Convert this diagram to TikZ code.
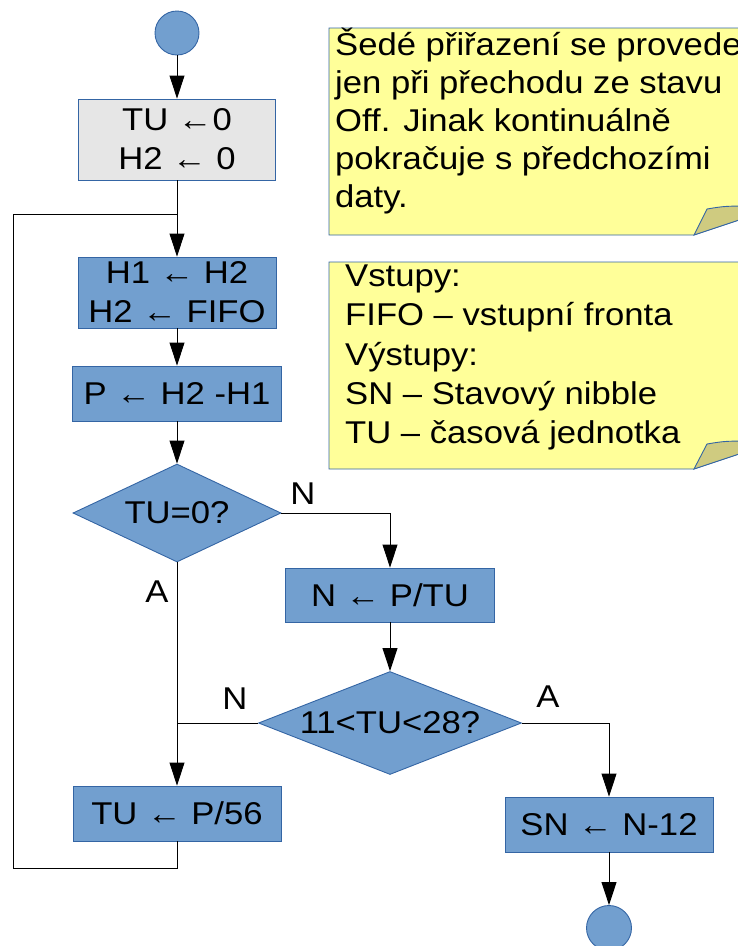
\documentclass[tikz,border=0pt]{standalone}
\usepackage{fontspec}
\setmainfont{Liberation Sans}[FakeStretch=1.10]
\usetikzlibrary{shapes.geometric,arrows.meta}
\definecolor{boxblue}{HTML}{729FCF}
\definecolor{edgeblue}{HTML}{3465A4}
\definecolor{initgray}{HTML}{E6E6E6}
\definecolor{noteyellow}{HTML}{FFFF99}
\definecolor{notefold}{HTML}{CFCB80}
\tikzset{
  basefont/.style={font=\fontsize{31.5}{39}\selectfont},
  proc/.style={draw=edgeblue, fill=boxblue, line width=0.9pt, inner sep=0pt, align=center, basefont},
  initbox/.style={proc, fill=initgray},
  decision/.style={draw=edgeblue, fill=boxblue, line width=0.9pt, shape=diamond, inner sep=0pt, basefont},
  terminal/.style={circle, draw=edgeblue, fill=boxblue, line width=0.9pt, minimum size=44pt, inner sep=0pt},
  flow/.style={draw=black, line width=1pt, -{Triangle[length=23pt,width=15pt]}},
  plainline/.style={draw=black, line width=1pt},
  lbl/.style={basefont, inner sep=0pt},
  notetext/.style={basefont, anchor=base west, inner sep=0pt},
  notebox/.style={fill=noteyellow, draw=edgeblue, line width=0.9pt},
  noteflap/.style={fill=notefold, draw=edgeblue, line width=0.9pt},
}
\begin{document}
\begin{tikzpicture}[x=1pt,y=-1pt]
\useasboundingbox (0,0) rectangle (738,946);
\clip (0,0) rectangle (738,946);

% --- comment notes ---
\path[notebox] (329,28) -- (760,28) -- (760,213) -- (694,235) -- (329,235) -- cycle;
\path[noteflap] (694,235) -- (707,209) .. controls (725,206) .. (760,206) -- (760,213) -- cycle;
\node[notetext] (n1a) at (335,55)  {Šedé přiřazení se provede};
\node[notetext] (n1b) at (335,93)  {jen při přechodu ze stavu};
\node[notetext] (n1c) at (335,131) {Off. Jinak kontinuálně};
\node[notetext] (n1d) at (335,169) {pokračuje s předchozími};
\node[notetext] (n1e) at (335,207) {daty.};

\path[notebox] (329,262) -- (760,262) -- (760,447) -- (694,469) -- (329,469) -- cycle;
\path[noteflap] (694,469) -- (707,444) .. controls (725,441) .. (760,441) -- (760,447) -- cycle;
\node[notetext] (n2a) at (345,286)   {Vstupy:};
\node[notetext] (n2b) at (345,325.5) {FIFO – vstupní fronta};
\node[notetext] (n2c) at (345,365)   {Výstupy:};
\node[notetext] (n2d) at (345,404)   {SN – Stavový nibble};
\node[notetext] (n2e) at (345,443)   {TU – časová jednotka};

% --- flowchart nodes ---
\node[terminal] (start) at (177,33) {};
\node[initbox, minimum width=197pt, minimum height=81pt] (init) at (177,139.5) {TU ←0\\H2 ← 0};
\node[proc, minimum width=198pt, minimum height=71pt] (shift) at (177,292.5) {H1 ← H2\\H2 ← FIFO};
\node[proc, minimum width=209pt, minimum height=55pt] (diff) at (177,393.5) {P ← H2 -H1};
\node[decision, minimum width=208pt, minimum height=98pt, aspect=2.12] (zero) at (177,513) {TU=0?};
\node[proc, minimum width=209pt, minimum height=54pt] (ratio) at (390,595) {N ← P/TU};
\node[decision, minimum width=263pt, minimum height=103pt, aspect=2.55] (range) at (390,723) {11<TU<28?};
\node[proc, minimum width=208pt, minimum height=55pt] (reset) at (177,813.5) {TU ← P/56};
\node[proc, minimum width=208pt, minimum height=55pt] (nib) at (609,824.5) {SN ← N-12};
\node[terminal, minimum size=45pt] (stop) at (609,928) {};

% --- helper points for the loop and the merge ---
\coordinate (merge) at (177,214);
\coordinate (loopbl) at (13,868);
\coordinate (looptl) at (13,214);
\coordinate (join) at (177,723);

% --- connectors ---
\draw[flow] (start) -- (init);
\draw[flow] (init) -- (shift);
\draw[flow] (shift) -- (diff);
\draw[flow] (diff) -- (zero);
\draw[flow] (zero.east) -| (ratio.north);
\draw[flow] (ratio) -- (range);
\draw[flow] (range.east) -| (nib.north);
\draw[flow] (nib) -- (stop);
\draw[flow] (zero.south) -- (reset.north);
\draw[plainline] (range.west) -- (join);
\draw[plainline] (reset.south) |- (loopbl) -- (looptl) -- (merge);

% --- branch labels ---
\node[lbl] (lN1) at (303,494) {N};
\node[lbl] (lA1) at (157,592) {A};
\node[lbl] (lN2) at (235,699) {N};
\node[lbl] (lA2) at (548,697) {A};
\end{tikzpicture}
\end{document}
